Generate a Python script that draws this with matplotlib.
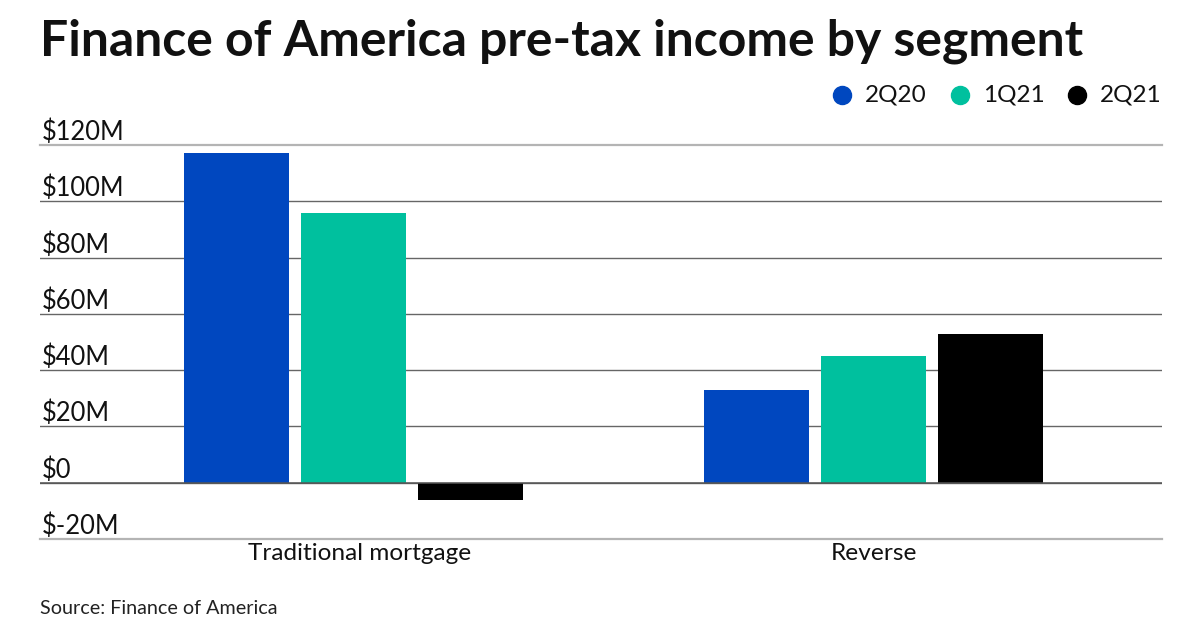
import matplotlib.pyplot as plt
from matplotlib.lines import Line2D
from matplotlib.transforms import blended_transform_factory, ScaledTranslation
import numpy as np

plt.rcParams['font.family'] = ['Lato', 'DejaVu Sans']

# pre-tax income, $M
segments = ["Traditional mortgage", "Reverse"]
series = ["2Q20", "1Q21", "2Q21"]
q2_20 = [117, 33]
q1_21 = [96, 45]
q2_21 = [-6, 53]
colors = ["#0047bf", "#00c09e", "#000000"]
yticks = [-20, 0, 20, 40, 60, 80, 100, 120]

fig = plt.figure(figsize=(12, 6.3), dpi=100)
ax = fig.add_axes([40/1200, 1 - 539/630, (1162-40)/1200, (539-145)/630])

x = np.arange(len(segments))
w = 0.2015
step = 0.2246
for i, (vals, c) in enumerate(zip([q2_20, q1_21, q2_21], colors)):
    ax.bar(x + (i - 1) * step, vals, width=w, color=c, zorder=3)

ax.set_xlim(-0.601, 1.553)
ax.set_ylim(-20, 120)

# outer lines light, inner ones darker
for t in yticks:
    if t in (yticks[0], yticks[-1]):
        ax.axhline(t, color="#b4b4b4", lw=1.6, zorder=1, clip_on=False)
    else:
        ax.axhline(t, color="#666666", lw=1.0, zorder=1)
ax.axhline(0, color="#555555", lw=1.1, zorder=4)

tr = blended_transform_factory(ax.transAxes, ax.transData)
for t in yticks:
    lab = f"${t}M" if t != 0 else "$0"
    ax.text(0.002, t + 1.8, lab, transform=tr, ha="left", va="baseline",
            fontsize=18.4, color="#111111")

ax.set_yticks([])
ax.set_xticks(x)
ax.set_xticklabels(segments, fontsize=17.6, color="#111111")
ax.tick_params(axis="x", length=0, pad=3)
# first label sits a bit right of its group in the original
lbl = ax.get_xticklabels()[0]
lbl.set_transform(lbl.get_transform() + ScaledTranslation(0.07, 0, fig.dpi_scale_trans))
for s in ax.spines.values():
    s.set_visible(False)

fig.text(40/1200, 1 - 55/630, "Finance of America pre-tax income by segment",
         fontsize=35.9, fontweight="bold", ha="left", va="baseline", color="#111111")
fig.text(40/1200, 1 - 614/630, "Source: Finance of America", fontsize=14.2,
         ha="left", va="baseline", color="#222222")

# legend, laid out by hand
leg_dots = [842, 960, 1077]
leg_y = 1 - 95/630
for px, c, name in zip(leg_dots, colors, series):
    fig.add_artist(Line2D([px/1200], [leg_y], marker="o", ls="", color=c,
                          markersize=13, transform=fig.transFigure))
    fig.text((px + 23)/1200, leg_y, name, fontsize=17.5, ha="left", va="center",
             color="#111111")

fig.savefig("out.png", dpi=100)
